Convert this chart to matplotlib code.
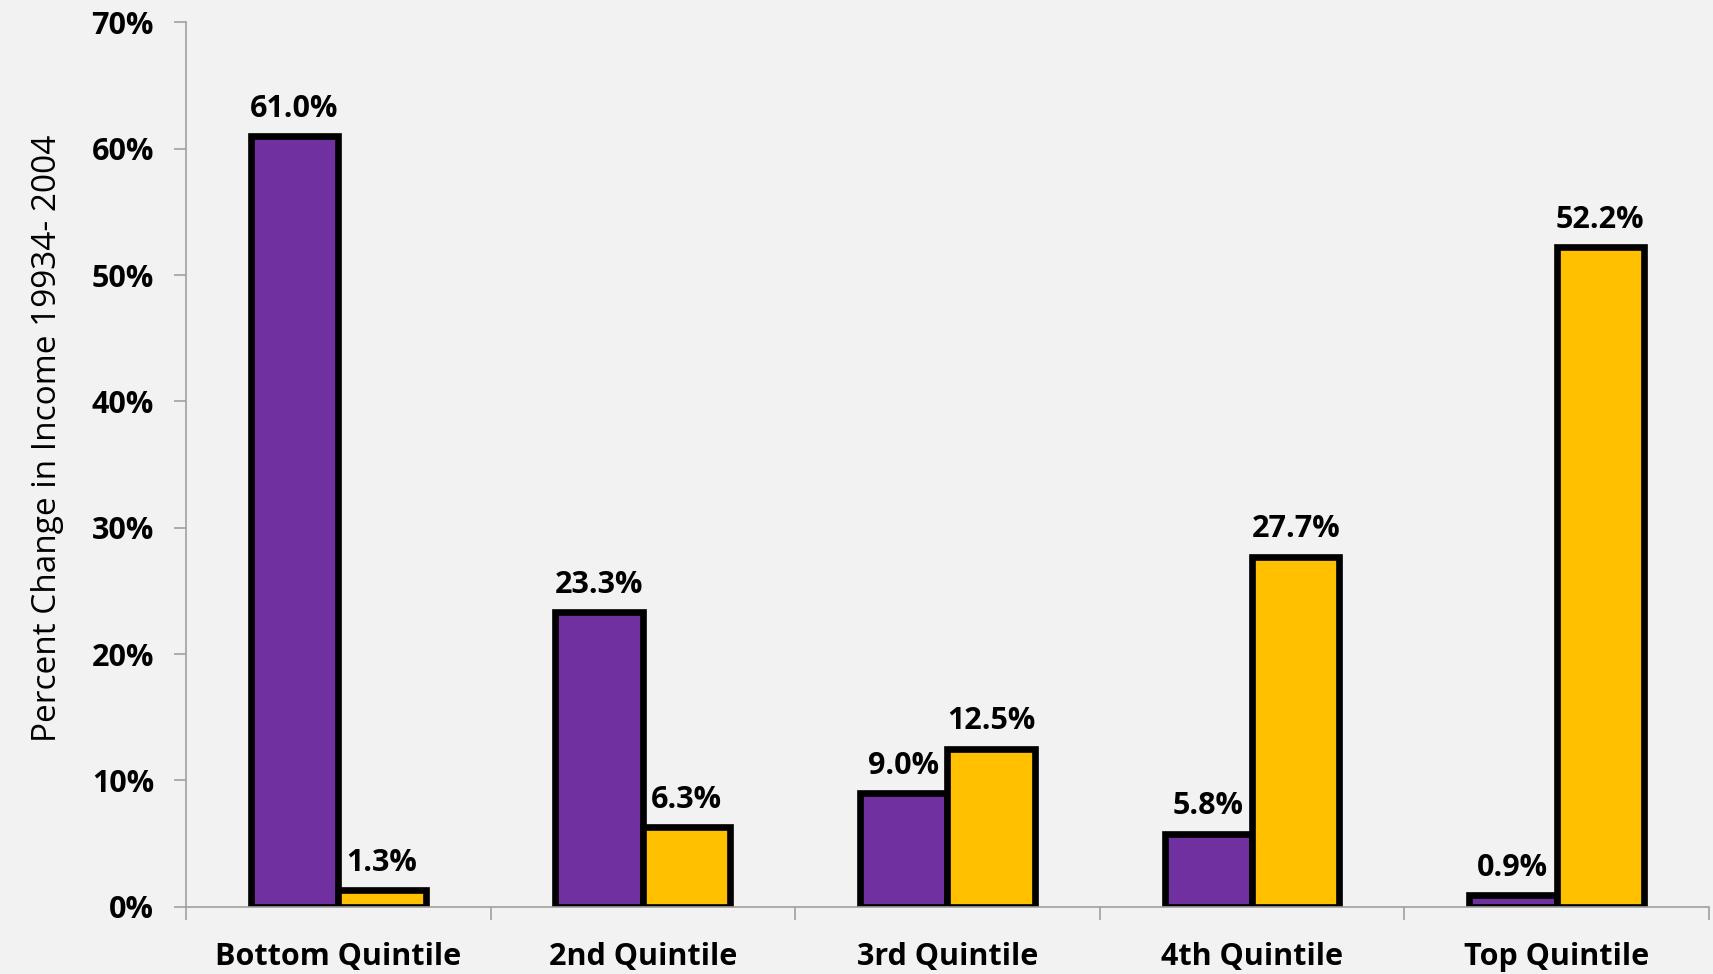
import numpy as np
import matplotlib.pyplot as plt
from matplotlib.ticker import PercentFormatter

categories = ['Bottom Quintile', '2nd Quintile', '3rd Quintile', '4th Quintile', 'Top Quintile']
series_a = [61.0, 23.3, 9.0, 5.8, 0.9]
series_b = [1.3, 6.3, 12.5, 27.7, 52.2]
y_label = 'Percent Change in Income 19934- 2004'

plt.rcParams['font.family'] = ['Open Sans', 'DejaVu Sans']

bg = '#F2F2F2'
fig = plt.figure(figsize=(17.13, 9.74), dpi=100, facecolor=bg)
ax = fig.add_axes([0.1086, 0.069, 0.889, 0.908])
ax.set_facecolor(bg)

x = np.arange(len(categories))
w = 0.287
bars_a = ax.bar(x - w / 2, series_a, w, color='#7030A0', edgecolor='black', linewidth=4.8)
bars_b = ax.bar(x + w / 2, series_b, w, color='#FFC000', edgecolor='black', linewidth=4.8)

for bars, vals in ((bars_a, series_a), (bars_b, series_b)):
    for b, v in zip(bars, vals):
        ax.annotate(f'{v:.1f}%', (b.get_x() + b.get_width() / 2, v),
                    xytext=(0, 9), textcoords='offset points',
                    ha='center', va='bottom', fontsize=22, fontweight='bold')

ax.set_xlim(-0.5, len(categories) - 0.5)
ax.set_ylim(0, 70)
ax.set_yticks(np.arange(0, 71, 10))
ax.yaxis.set_major_formatter(PercentFormatter(decimals=0))
ax.set_xticks(x)
ax.set_xticklabels(categories, fontsize=22, fontweight='bold')
ax.set_xticks(np.arange(len(categories) + 1) - 0.5, minor=True)
ax.tick_params(axis='x', which='major', length=0, pad=25)
ax.tick_params(axis='x', which='minor', length=9, color='#A0A0A0', width=1.2)
ax.tick_params(axis='y', length=9, color='#A0A0A0', width=1.2, labelsize=22, pad=14)
for lab in ax.get_yticklabels():
    lab.set_fontweight('bold')

ax.set_ylabel(y_label, fontsize=24, labelpad=20)
ax.yaxis.label.set_y(0.53)

for s in ('top', 'right'):
    ax.spines[s].set_visible(False)
for s in ('left', 'bottom'):
    ax.spines[s].set_color('#A0A0A0')
    ax.spines[s].set_linewidth(1.2)

fig.savefig('out.png', dpi=100, facecolor=bg)
